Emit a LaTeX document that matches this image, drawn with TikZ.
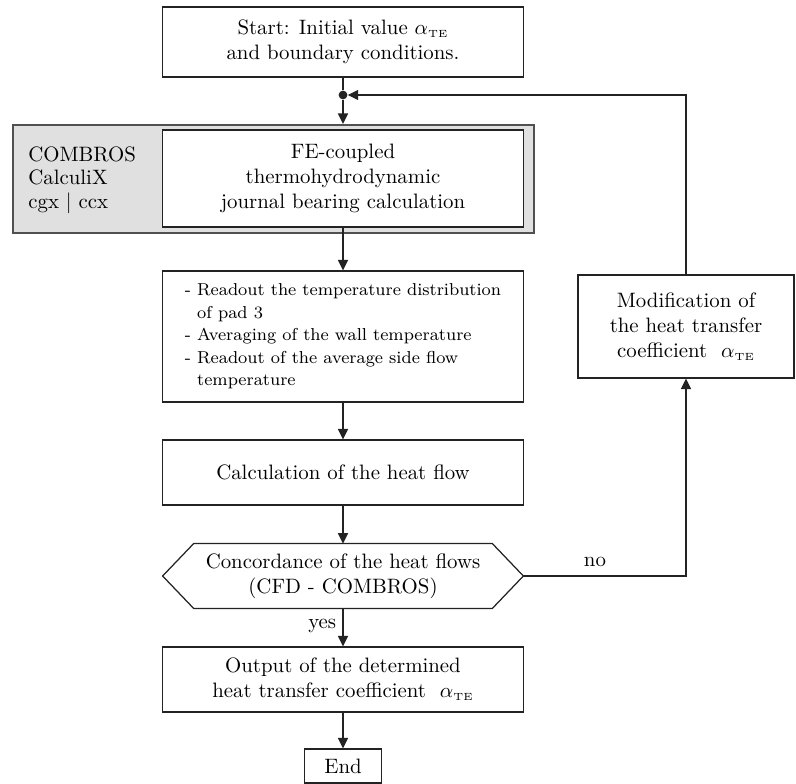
\documentclass[tikz,border=0pt]{standalone}
\usepackage{amsmath,amssymb}
\usepackage{xcolor}
\usepackage{tikz}
\usetikzlibrary{arrows.meta, positioning, calc}
\definecolor{panelgray}{RGB}{224,224,224}
\definecolor{panelline}{RGB}{80,80,80}
\definecolor{linecol}{RGB}{35,35,35}
\newcommand{\aTE}{$\alpha_{\scriptscriptstyle\mathrm{TE}}$}

\begin{document}
\begin{tikzpicture}[
    x=0.48pt, y=-0.48pt,
    box/.style={rectangle, draw=linecol, fill=white, line width=0.6pt, inner sep=0pt, align=center, minimum width=173.3pt},
    panel/.style={rectangle, draw=panelline, fill=panelgray, line width=1.1pt, inner sep=0pt, minimum width=250.1pt, minimum height=51.8pt},
    junction/.style={circle, fill=linecol, inner sep=0pt, minimum size=4.2pt},
    link/.style={line width=0.6pt, draw=linecol},
    flow/.style={link, -{Triangle[length=5pt,width=4.8pt]}}
]
    \useasboundingbox (0,0) rectangle (796,784);

    % main column
    \node[box, minimum height=33.6pt] (start) at (343,42) {Start: Initial value \aTE\\and boundary conditions.};
    \node[junction] (j) at (343,95) {};
    \node[panel] (tools) at (273.5,179) {};
    \node[anchor=west, align=left, font=\fontsize{10}{11.2}\selectfont] (toolnames) at (21,180) {COMBROS\\CalculiX\\cgx $|$ ccx};
    \node[box, minimum height=46.6pt] (fe) at (343,178.5) {FE-coupled\\thermohydrodynamic\\journal bearing calculation};
    \node[box, minimum height=62.9pt, align=left, font=\fontsize{8.3}{10.8}\selectfont] (readout) at (343,336.5)
        {- Readout the temperature distribution\\\phantom{- }of pad 3\\- Averaging of the wall temperature\\- Readout of the average side flow\\\phantom{- }temperature};
    \node[box, minimum height=31.2pt] (heat) at (343,472.5) {Calculation of the heat flow};

    % decision
    \node[inner sep=0pt, align=center, minimum width=143pt, minimum height=30.7pt] (conc) at (343,576) {Concordance of the heat flows\\(CFD - COMBROS)};
    \coordinate (concR) at ($(conc.east)+(31,0)$);
    \coordinate (concL) at ($(conc.west)+(-31,0)$);
    \draw[link] (conc.north west) -- (conc.north east) -- (concR) -- (conc.south east) -- (conc.south west) -- (concL) -- cycle;

    \node[box, minimum height=31.2pt] (out) at (343,679.5) {Output of the determined\\heat transfer coefficient\ \ \aTE};
    \node[box, minimum width=37pt, minimum height=16.3pt] (end) at (343,766) {End};

    % loop back
    \node[box, minimum width=103.7pt, minimum height=49.4pt] (mod) at (686,326.5) {Modification of\\the heat transfer\\coefficient\ \ \aTE};

    \draw[link] (start.south) -- (j);
    \draw[flow] (j) -- (j |- tools.north);
    \draw[flow] (fe.south) -- (readout.north);
    \draw[flow] (readout.south) -- (heat.north);
    \draw[flow] (heat.south) -- (conc.north);
    \draw[flow] (conc.south) -- node[pos=0.46, left, inner sep=3pt] {yes} (out.north);
    \draw[flow] (out.south) -- (end.north);
    \draw[flow] (concR) -| node[pos=0.22, above, inner sep=4pt] {no} (mod.south);
    \draw[flow] (mod.north) |- (j);
\end{tikzpicture}
\end{document}
